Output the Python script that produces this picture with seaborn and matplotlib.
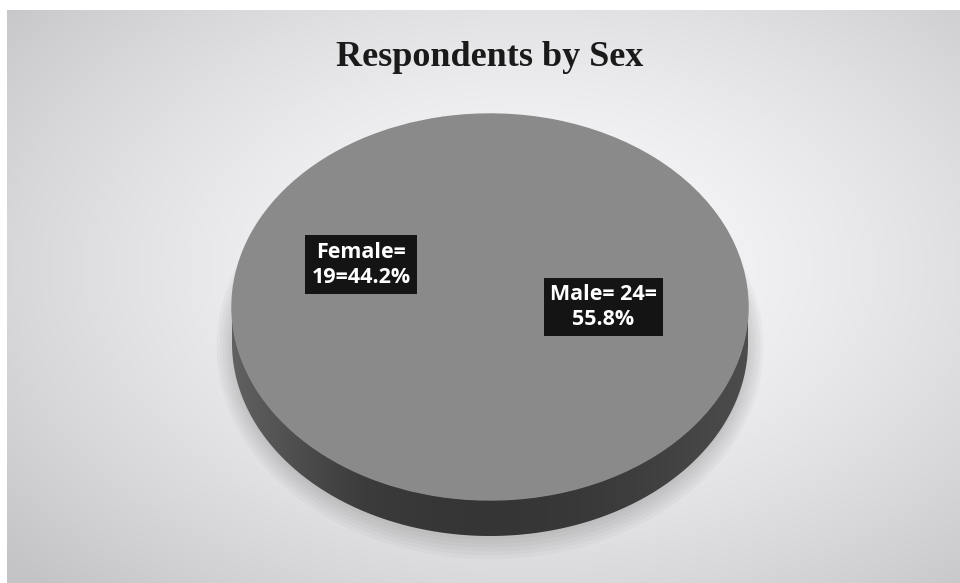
import numpy as np
import pandas as pd
import seaborn as sns
import matplotlib
matplotlib.use("Agg")
import matplotlib.pyplot as plt
from matplotlib.patches import Polygon

# ---- data ----
categories = ["Female", "Male"]
counts = [19, 24]
percents = [44.2, 55.8]
label_texts = ["Female=\n19=44.2%", "Male= 24=\n55.8%"]
title = "Respondents by Sex"

df = pd.DataFrame({"sex": categories, "count": counts, "pct": percents})

sns.set_theme(style="white")
W, H = 960, 583
fig = plt.figure(figsize=(W / 100, H / 100), dpi=100)
fig.patch.set_facecolor("white")

# ---- background frame with radial light gradient ----
bg = fig.add_axes([7 / W, 0, 1 - 7 / W, 1 - 10 / H])
bg.set_axis_off()
yy, xx = np.mgrid[0:1:300j, 0:1:500j]
r = np.sqrt(((xx - 0.55) / 0.75) ** 2 + ((yy - 0.45) / 0.8) ** 2)
val = np.clip(0.98 - 0.22 * r ** 1.5, 0.77, 0.98)
img = np.dstack([val, val, val + 0.01])
bg.imshow(np.clip(img, 0, 1), extent=[0, 1, 0, 1], aspect="auto", origin="upper")
bg.set_xlim(0, 1)
bg.set_ylim(0, 1)

# ---- pie axes: full figure, data coords scaled so unit pie -> ellipse ----
cx, cy = 490, 583 - 307      # ellipse centre (px from bottom)
a, b = 258, 193              # semi axes in px
ax = fig.add_axes([0, 0, 1, 1])
ax.set_axis_off()

depth = 36 / b
# soft shadow beneath pie
t = np.linspace(0, 2 * np.pi, 200)
for k in range(6):
    ax.fill(np.cos(t) * (1 + 0.012 * k), np.sin(t) * (1 + 0.02 * k) - depth - 0.02,
            color="#555555", alpha=0.045, lw=0, zorder=1)

# side wall with gradient
t = np.linspace(np.pi, 2 * np.pi, 200)
xs = np.cos(t)
ys = np.sin(t)
verts = np.concatenate([np.column_stack([xs, ys]),
                        np.column_stack([xs[::-1], ys[::-1] - depth])])
side = Polygon(verts, closed=True, facecolor="none", edgecolor="none", zorder=2)
ax.add_patch(side)
gx = np.linspace(-1, 1, 400)
shade = 0.30 - 0.09 * np.cos(gx * np.pi / 2) + 0.08 * np.clip((-0.5 - gx) / 0.5, 0, 1)
grad = np.tile(shade, (50, 1))
im = ax.imshow(np.dstack([grad, grad, grad]), extent=[-1, 1, -1 - depth, 0],
               aspect="auto", zorder=2, origin="upper")
im.set_clip_path(side)

# top surface: the pie itself (uniform grey slices)
top_grey = "#8a8a8a"
pal = sns.color_palette([top_grey, top_grey])
wedges, _ = ax.pie(df["count"], colors=pal, startangle=100.5, counterclock=True,
                   radius=1, center=(0, 0), frame=True,
                   wedgeprops=dict(linewidth=1.0, edgecolor=top_grey))
for w in wedges:
    w.set_zorder(3)
ax.set_axis_off()
ax.set_xlim(-cx / a, (W - cx) / a)
ax.set_ylim(-cy / b, (H - cy) / b)
ax.set_aspect("auto")

# ---- data labels ----
label_pos = [(-0.50, 0.22), (0.44, 0.0)]
for txt, (x, y) in zip(label_texts, label_pos):
    ax.text(x, y, txt, ha="center", va="center", color="white",
            fontsize=15.5, fontweight="bold", family=["Open Sans", "DejaVu Sans"],
            linespacing=1.25, zorder=5,
            bbox=dict(boxstyle="square,pad=0.3", facecolor="#141414",
                      edgecolor="none"))

# ---- title ----
fig.text(490 / W, 1 - 57 / H, title, ha="center", va="center",
         fontsize=26, fontweight="bold", family=["Liberation Serif", "DejaVu Serif"],
         color="#1a1a1a")

fig.savefig("out.png", dpi=100)
